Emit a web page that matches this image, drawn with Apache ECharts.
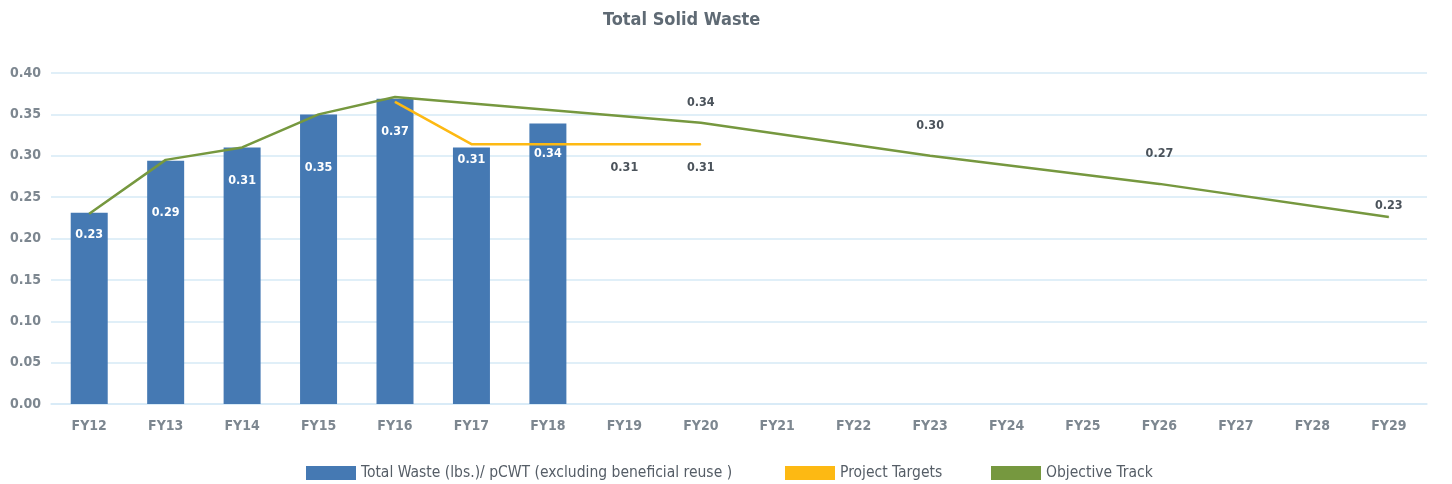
<!DOCTYPE html>
<html>
<head>
<meta charset="utf-8">
<script src="https://cdn.jsdelivr.net/npm/echarts@6/dist/echarts.min.js"></script>
<style>
  html, body { margin: 0; padding: 0; background: #ffffff; }
  #chart { width: 1452px; height: 484px; }
</style>
</head>
<body>
<div id="chart"></div>
<script>
// data
const categories = ['FY12', 'FY13', 'FY14', 'FY15', 'FY16', 'FY17', 'FY18', 'FY19', 'FY20',
  'FY21', 'FY22', 'FY23', 'FY24', 'FY25', 'FY26', 'FY27', 'FY28', 'FY29']
const totalWaste = [0.231, 0.294, 0.31, 0.35, 0.369, 0.31, 0.339]
const projectTargets = [null, null, null, null, 0.365, 0.314, 0.314, 0.314, 0.314]
const objectiveTrack = [0.23, 0.295, 0.31, 0.35, 0.371, null, null, null, 0.34,
  null, null, 0.30, null, null, 0.266, null, null, 0.226]
const yTicks = { min: 0, max: 0.4, step: 0.05 }
const seriesNames = ['Total Waste (lbs.)/ pCWT (excluding beneficial reuse )', 'Project Targets', 'Objective Track']

// label placement (styling only)
const barLabelDist = [15, 46, 27, 47, 27, 6, 24]
const targetLabelShow = [false, false, false, false, false, false, false, true, true]
const trackLabelDist = { 8: 13, 11: 23, 14: 23, 17: 4 }
const legendLeft = [301, 780, 986]

const FONT = '"DejaVu Sans Condensed", Roboto, sans-serif'
const BLUE = '#4579b3'
const YELLOW = '#fdb913'
const GREEN = '#76983f'
const chart = echarts.init(document.getElementById('chart'))

const valueLabel = p => p.value.toFixed(2)

chart.setOption({
  animation: false,
  textStyle: { fontFamily: FONT },
  title: {
    text: 'Total Solid Waste',
    left: 598,
    top: 6,
    textStyle: { fontSize: 18, fontWeight: 'bold', color: '#5f6a74', fontFamily: FONT }
  },
  // one legend per item so each sits where the reference puts it
  legend: seriesNames.map((name, i) => ({
    top: 460,
    left: legendLeft[i],
    itemWidth: 50,
    itemHeight: 14,
    itemGap: 0,
    icon: 'rect',
    selectedMode: false,
    textStyle: { fontSize: 15.5, color: '#555d66', fontFamily: FONT, padding: [0, 0, 0, 0] },
    data: [name]
  })),
  grid: { left: 51, right: 25, top: 73, bottom: 80 },
  xAxis: {
    type: 'category',
    data: categories,
    axisTick: { show: false },
    axisLine: { lineStyle: { color: '#d6eaf6', width: 1.5 } },
    axisLabel: { color: '#7d8790', fontWeight: 'bold', fontSize: 14, margin: 15, fontFamily: FONT }
  },
  yAxis: {
    type: 'value',
    min: yTicks.min,
    max: yTicks.max,
    interval: yTicks.step,
    axisLine: { show: false },
    axisTick: { show: false },
    splitLine: { lineStyle: { color: '#d6eaf6', width: 1.5 } },
    axisLabel: {
      color: '#7d8790', fontWeight: 'bold', fontSize: 14, margin: 10, fontFamily: FONT,
      formatter: v => v.toFixed(2)
    }
  },
  series: [
    {
      name: seriesNames[0],
      type: 'bar',
      barWidth: 37,
      itemStyle: { color: BLUE },
      data: totalWaste.map((v, i) => ({
        value: v,
        label: {
          show: true,
          position: 'insideTop',
          distance: barLabelDist[i],
          color: '#ffffff',
          fontWeight: 'bold',
          fontSize: 12.5,
          fontFamily: FONT,
          formatter: valueLabel
        }
      })),
      z: 2
    },
    {
      name: seriesNames[1],
      type: 'line',
      symbol: 'circle',
      symbolSize: 1,
      itemStyle: { color: YELLOW },
      lineStyle: { color: YELLOW, width: 2.5 },
      data: projectTargets.map((v, i) => ({
        value: v,
        label: {
          show: targetLabelShow[i],
          position: 'bottom',
          distance: 17,
          color: '#4b535b',
          fontWeight: 'bold',
          fontSize: 12.5,
          fontFamily: FONT,
          formatter: valueLabel
        }
      })),
      z: 3
    },
    {
      name: seriesNames[2],
      type: 'line',
      connectNulls: true,
      symbol: 'circle',
      symbolSize: 1,
      itemStyle: { color: GREEN },
      lineStyle: { color: GREEN, width: 2.5 },
      data: objectiveTrack.map((v, i) => ({
        value: v,
        label: {
          show: trackLabelDist[i] !== undefined,
          position: 'top',
          distance: trackLabelDist[i] || 5,
          color: '#4b535b',
          fontWeight: 'bold',
          fontSize: 12.5,
          fontFamily: FONT,
          formatter: valueLabel
        }
      })),
      z: 4
    }
  ]
})
</script>
</body>
</html>
